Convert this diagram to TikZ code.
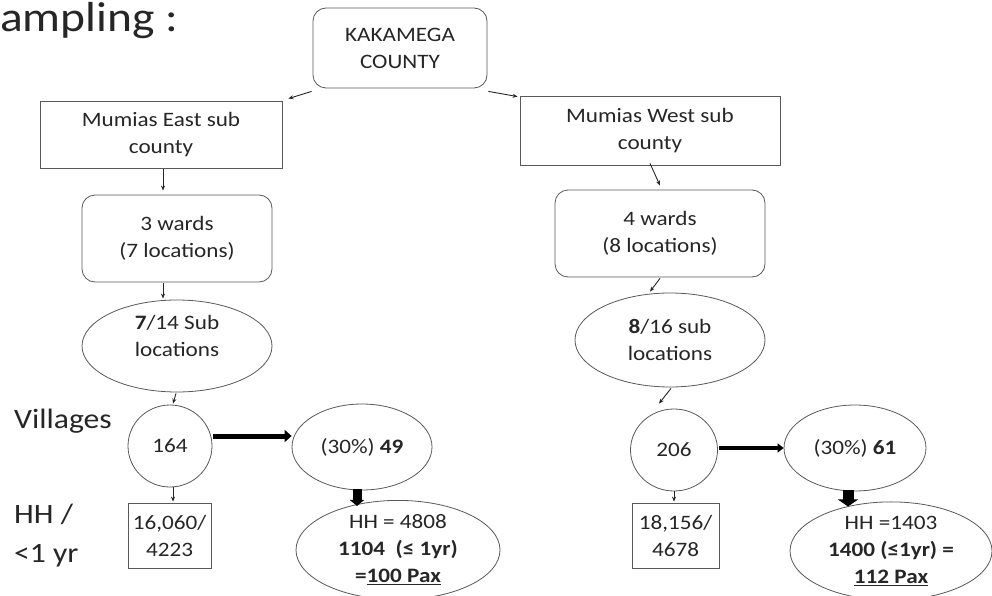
\documentclass[tikz,border=0pt]{standalone}
\usepackage{fontspec}
\setmainfont[FakeStretch=1.13]{Carlito}
\usetikzlibrary{shapes.geometric,arrows.meta,calc}
\begin{document}
\begin{tikzpicture}[x=1pt,y=-1pt,
  every node/.style={text=black!85,font=\fontsize{20.5}{27}\selectfont,align=center,inner sep=0pt},
  bx/.style={draw=black!65,line width=0.8pt},
  rbox/.style={bx,rectangle,rounded corners=13pt},
  sbox/.style={bx,rectangle},
  ell/.style={bx,ellipse},
  arr/.style={-{Stealth[length=5pt,width=4pt]},line width=0.9pt,black!85},
  fat/.style={-{Triangle[length=7pt,width=12pt]},line width=5pt,black},
  blk/.style={-{Triangle[length=7pt,width=20pt]},line width=11pt,black},
  side/.style={font=\fontsize{28}{30}\selectfont,anchor=west,text=black!85}
]
\useasboundingbox (0,0) rectangle (992,596);
\fill[white] (0,0) rectangle (992,596);

% side labels
\node[font=\fontsize{42}{44}\selectfont,anchor=west,text=black!85] (title) at (0,21) {ampling :};
\node[side] (lvill) at (14,421) {Villages};
\node[side] (lhh) at (14,514) {HH /};
\node[side] (lyr) at (14,556) {<1 yr};

% nodes
\node[rbox,minimum width=174pt,minimum height=80pt] (kak) at (400,48) {KAKAMEGA\\COUNTY};
\node[sbox,minimum width=242pt,minimum height=67pt] (east) at (161,134.5) {Mumias East sub\\county};
\node[sbox,minimum width=260pt,minimum height=69pt] (west) at (650,130.5) {Mumias West sub\\county};
\node[rbox,minimum width=190pt,minimum height=87pt] (w3) at (177,238.5) {3 wards\\(7 locations)};
\node[rbox,minimum width=210pt,minimum height=87pt] (w4) at (660,233.5) {4 wards\\(8 locations)};
\node[ell,minimum width=190pt,minimum height=92pt] (s7) at (177,346) {\textbf{7}/14 Sub\\locations\\[-6pt]};
\node[ell,minimum width=190pt,minimum height=94pt] (s8) at (670,340) {\textbf{8}/16 sub\\locations};
\node[ell,minimum width=84pt,minimum height=82pt] (v164) at (170,446) {164};
\node[ell,minimum width=140pt,minimum height=86pt] (v49) at (362,447) {(30\%) \textbf{49}};
\node[ell,minimum width=87pt,minimum height=82pt] (v206) at (674,450) {206};
\node[ell,minimum width=142pt,minimum height=86pt] (v61) at (855,448) {(30\%) \textbf{61}};
\node[sbox,minimum width=83pt,minimum height=65pt] (b16) at (169.5,535.5) {16,060/\\4223};
\node[sbox,minimum width=87pt,minimum height=65pt] (b18) at (675.5,535.5) {18,156/\\4678};
\node[ell,minimum width=204pt,minimum height=94pt] (h48) at (398,550)
  {HH = 4808\\\textbf{1104\ \ (≤ 1yr)}\\\textbf{=\underline{100 Pax}}};
\node[ell,minimum width=202pt,minimum height=84pt] (h14) at (891,551)
  {HH =1403\\\textbf{1400 (≤1yr) =}\\\textbf{\underline{112 Pax}}};

% connectors
\draw[arr] ($(kak.south west)+(-1,3)$) -- ($(east.north east)+(6,-2)$);
\draw[arr] ($(kak.south east)+(1,3)$) -- ($(west.north west)+(-2,1)$);
\draw[arr] ($(east.south)+(2,1)$) -- ($(east.south |- w3.north)+(2,-4)$);
\draw[arr] ($(west.south)+(0,-2)$) -- ($(w4.north)+(0,-4)$);
\draw[arr] ($(w3.south)+(-14,1)$) -- ($(w3.south |- s7.north)+(-14,-1)$);
\draw[arr] ($(w4.south)+(0,1)$) -- ($(s8.north)+(-20,-1)$);
\draw[arr] ($(s7.south)+(-1,1)$) -- ($(v164.north)+(3,-1)$);
\draw[arr] ($(s8.south)+(1,1)$) -- ($(v206.north)+(-15,-5)$);
\draw[arr] ($(v164.south)+(3,0)$) -- ($(v164.south |- b16.north)+(3,-1)$);
\draw[arr] ($(v206.south)+(0,0)$) -- ($(v206.south |- b18.north)+(0,-1)$);
\draw[fat] ($(v164.east)+(1,-10)$) -- ($(v49.west)+(0,-11)$);
\draw[fat,line width=4pt,-{Triangle[length=6pt,width=9pt]}] ($(v206.east)+(1,-2)$) -- ($(v61.west)+(0,0)$);
\draw[blk,line width=9pt,-{Triangle[length=6pt,width=14pt]}] ($(v49.south)+(-5,-1)$) -- ($(v49.south |- h48.north)+(-5,6)$);
\draw[blk] ($(v61.south)+(-7,-1)$) -- ($(v61.south |- h14.north)+(-7,5)$);
\end{tikzpicture}
\end{document}
